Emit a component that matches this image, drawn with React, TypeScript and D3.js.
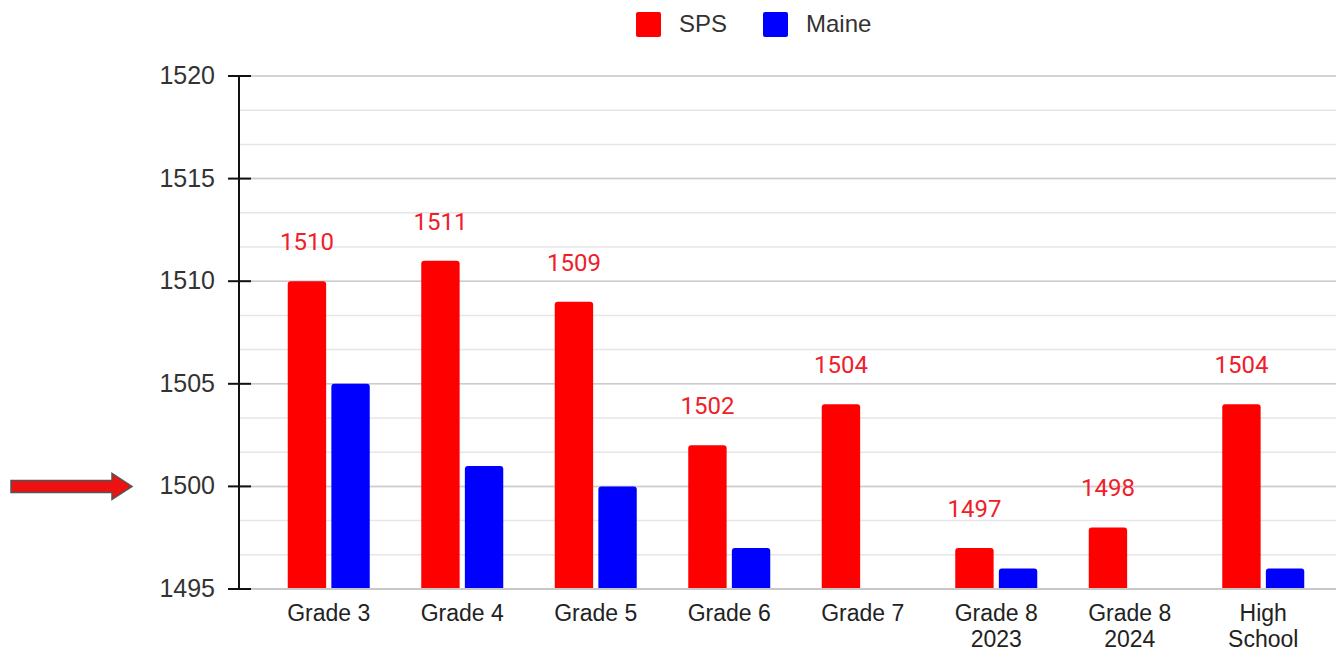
import React from 'react';
import * as d3 from 'd3';

const grades = ['Grade 3', 'Grade 4', 'Grade 5', 'Grade 6', 'Grade 7', 'Grade 8\n2023', 'Grade 8\n2024', 'High\nSchool'];
const spsScores = [1510, 1511, 1509, 1502, 1504, 1497, 1498, 1504];
const maineScores: (number | null)[] = [1505, 1501, 1500, 1497, null, 1496, null, 1496];
const seriesNames = ['SPS', 'Maine'];
const seriesColors = ['#ff0000', '#0000ff'];
const yTicks = [1495, 1500, 1505, 1510, 1515, 1520];

const W = 1336;
const H = 651;
const AXIS_FONT = '"Liberation Sans", Arial, sans-serif';

const App = () => {
    const x = d3.scaleBand<string>().domain(grades).range([262, 1330]).paddingInner(0).paddingOuter(0);
    const inner = d3.scaleBand<string>().domain(seriesNames).range([-41, 41]).paddingInner(0.12);
    const y = d3.scaleLinear().domain([1495, 1520]).range([589, 76]);

    // light gridlines every third of a major step
    const minorTicks = d3.range(0, 16).map(i => 1495 + (i * 5) / 3);

    const barPath = (x0: number, w: number, yTop: number, yBot: number, r: number) =>
        `M${x0},${yBot} V${yTop + r} Q${x0},${yTop} ${x0 + r},${yTop} H${x0 + w - r} Q${x0 + w},${yTop} ${x0 + w},${yTop + r} V${yBot} Z`;

    const series = [spsScores, maineScores];

    return (
        <svg width={W} height={H} style={{ position: 'absolute', left: 0, top: 0, background: '#fff' }}>
            {minorTicks.map((t, i) => (
                <line key={'m' + i} x1={239} x2={W} y1={y(t)} y2={y(t)} stroke="#e6e6e6" strokeWidth={1.5} />
            ))}
            {yTicks.map(t => (
                <line key={'g' + t} x1={239} x2={W} y1={y(t)} y2={y(t)} stroke="#cccccc" strokeWidth={1.5} />
            ))}

            {/* bars */}
            {grades.map((g, gi) =>
                series.map((s, si) => {
                    const v = s[gi];
                    if (v == null) return null;
                    const bx = (x(g) as number) + x.bandwidth() / 2 + (inner(seriesNames[si]) as number);
                    return (
                        <path key={g + si} d={barPath(bx, inner.bandwidth(), y(v), y(1495), 3)} fill={seriesColors[si]} />
                    );
                })
            )}

            {/* value labels */}
            {grades.map((g, gi) => {
                const bx = (x(g) as number) + x.bandwidth() / 2 + (inner('SPS') as number) + inner.bandwidth() / 2;
                return (
                    <text key={'l' + g} x={bx} y={y(spsScores[gi]) - 31} textAnchor="middle"
                        fontFamily="Roboto, sans-serif" fontSize={24} fill="#f0202a">
                        {spsScores[gi]}
                    </text>
                );
            })}

            <line x1={239} x2={W} y1={y(1495)} y2={y(1495)} stroke="#c8c8c8" strokeWidth={2} />
            <line x1={239} x2={239} y1={y(1520)} y2={y(1495)} stroke="#111" strokeWidth={2} />
            {yTicks.map(t => (
                <g key={'t' + t}>
                    <line x1={228} x2={251} y1={y(t)} y2={y(t)} stroke="#111" strokeWidth={2} />
                    <text x={215} y={y(t) + 8} textAnchor="end" fontFamily={AXIS_FONT} fontSize={25} fill="#333">
                        {t}
                    </text>
                </g>
            ))}

            {grades.map(g => (
                <text key={'x' + g} textAnchor="middle" fontFamily={AXIS_FONT} fontSize={23} fill="#222">
                    {g.split('\n').map((line, li) => (
                        <tspan key={li} x={(x(g) as number) + x.bandwidth() / 2} y={621 + li * 26}>{line}</tspan>
                    ))}
                </text>
            ))}

            {/* legend */}
            {seriesNames.map((n, i) => {
                const lx = [636, 763][i];
                return (
                    <g key={'lg' + n}>
                        <rect x={lx} y={12} width={25} height={25} rx={2} fill={seriesColors[i]} />
                        <text x={lx + 43} y={32} fontFamily={AXIS_FONT} fontSize={24} fill="#333">{n}</text>
                    </g>
                );
            })}

            {/* arrow pointing at 1500 */}
            <path d={`M11,${y(1500) - 6} H112 V${y(1500) - 13} L132,${y(1500)} L112,${y(1500) + 13} V${y(1500) + 6} H11 Z`}
                fill="#ee1111" stroke="#555" strokeWidth={1.5} />
        </svg>
    );
};

export default App;
